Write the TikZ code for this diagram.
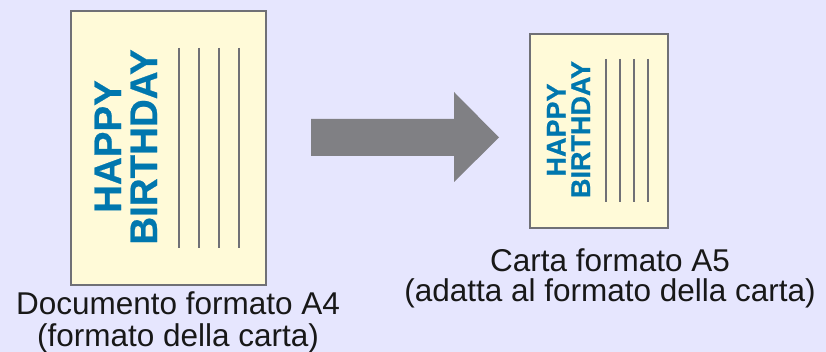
\documentclass[tikz,border=0pt]{standalone}
\usepackage{fontspec}
\setmainfont{Liberation Sans}
\newfontfamily\heavyfont[FakeBold=0.6]{Liberation Sans Bold}
\definecolor{bgcol}{RGB}{230,230,254}
\definecolor{papercol}{RGB}{255,250,216}
\definecolor{framecol}{RGB}{112,112,118}
\definecolor{bluetxt}{RGB}{0,119,174}
\definecolor{arrowcol}{RGB}{128,128,132}
\definecolor{labeltxt}{RGB}{24,24,24}
\tikzset{
  paper/.style={draw=framecol, fill=papercol, line width=2.5pt},
  rule/.style={draw=framecol, line width=2.4pt},
  bigtitle/.style={text=bluetxt, font=\heavyfont\fontsize{38.5}{38.5}\selectfont, rotate=90, anchor=base, inner sep=0pt},
  smalltitle/.style={text=bluetxt, font=\heavyfont\fontsize{27}{27}\selectfont, rotate=90, anchor=base, inner sep=0pt},
  caption/.style={text=labeltxt, font=\fontsize{31.5}{32}\selectfont, anchor=base, inner sep=0pt},
}
\begin{document}
\begin{tikzpicture}[x=1pt,y=1pt]
\fill[bgcol] (0,0) rectangle (826,352);
\useasboundingbox (0,0) rectangle (826,352);
% big document
\draw[paper] (71,341) rectangle (266,67);
\coordinate (a1t) at (179,304); \coordinate (a1b) at (179,104);
\coordinate (a2t) at (199,304); \coordinate (a2b) at (199,104);
\coordinate (a3t) at (219,304); \coordinate (a3b) at (219,104);
\coordinate (a4t) at (239,304); \coordinate (a4b) at (239,104);
\draw[rule] (a1t) -- (a1b); \draw[rule] (a2t) -- (a2b);
\draw[rule] (a3t) -- (a3b); \draw[rule] (a4t) -- (a4b);
\node[bigtitle] (h1) at (121,205.5) {HAPPY};
\node[bigtitle] (b1) at (157,205) {BIRTHDAY};
% arrow
\fill[arrowcol] (311,233) -- (454,233) -- (454,260) -- (499,214.5) -- (454,170) -- (454,196) -- (311,196) -- cycle;
% small document
\draw[paper] (530,318) rectangle (668,124);
\coordinate (s1t) at (606,293); \coordinate (s1b) at (606,150);
\coordinate (s2t) at (620,293); \coordinate (s2b) at (620,150);
\coordinate (s3t) at (634,293); \coordinate (s3b) at (634,150);
\coordinate (s4t) at (648,293); \coordinate (s4b) at (648,150);
\draw[rule] (s1t) -- (s1b); \draw[rule] (s2t) -- (s2b);
\draw[rule] (s3t) -- (s3b); \draw[rule] (s4t) -- (s4b);
\node[smalltitle] (h2) at (565.5,222) {HAPPY};
\node[smalltitle] (b2) at (590,222.5) {BIRTHDAY};
% captions
\node[caption] (c1) at (178,37.5) {Documento formato A4};
\node[caption] (c2) at (178,5.5) {(formato della carta)};
\node[caption] (c3) at (610,80.5) {Carta formato A5};
\node[caption] (c4) at (610,50.3) {(adatta al formato della carta)};
\end{tikzpicture}
\end{document}
